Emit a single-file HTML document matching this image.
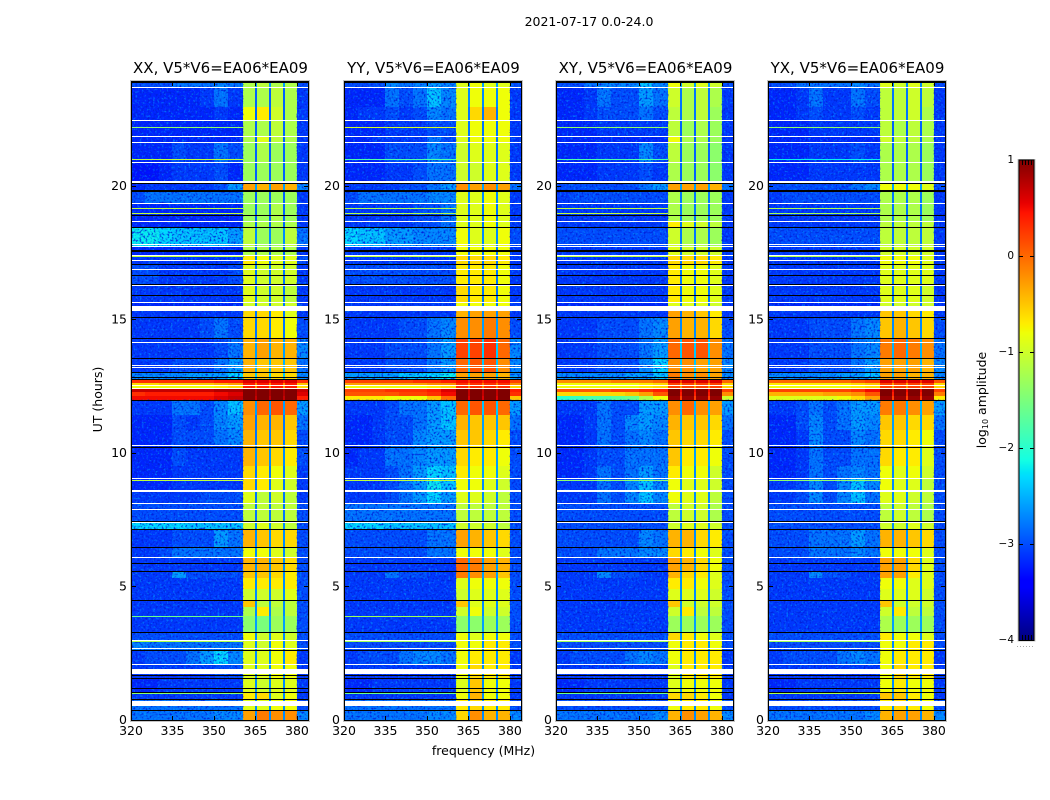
<!DOCTYPE html>
<html lang="en">
<head>
<meta charset="utf-8">
<title>2021-07-17 amplitude spectrograms</title>
<style>
html,body{margin:0;padding:0;background:#fff;width:1050px;height:800px;overflow:hidden}
svg{display:block}
text{font-family:"DejaVu Sans","Liberation Sans",sans-serif;fill:#000}
</style>
</head>
<body>
<svg id="chart" xmlns="http://www.w3.org/2000/svg" width="1050" height="800" viewBox="0 0 1050 800">
<defs>
<filter id="speckle" x="0" y="0" width="100%" height="100%" color-interpolation-filters="sRGB">
<feTurbulence type="fractalNoise" baseFrequency="0.45" numOctaves="2" seed="4"/>
<feColorMatrix type="matrix" values="0 0 0 0 0  0 0 0 0 0.72  0 0 0 0 1  0 0 0 4 -2.2"/>
</filter>
<filter id="speckle-dark" x="0" y="0" width="100%" height="100%" color-interpolation-filters="sRGB">
<feTurbulence type="fractalNoise" baseFrequency="0.5" numOctaves="2" seed="11"/>
<feColorMatrix type="matrix" values="0 0 0 0 0  0 0 0 0 0.12  0 0 0 0 0.85  0 0 0 3.5 -1.7"/>
</filter>
</defs>
<text x="589" y="26" font-size="12.5" text-anchor="middle">2021-07-17 0.0-24.0</text>
<text x="483.5" y="755" font-size="12.5" text-anchor="middle">frequency (MHz)</text>
<text x="0" y="0" font-size="12.5" text-anchor="middle" transform="translate(102,399.5) rotate(-90)">UT (hours)</text>
<text x="0" y="0" font-size="12.5" text-anchor="middle" transform="translate(986,400) rotate(-90)">log<tspan font-size="8" dy="2">10</tspan><tspan dy="-2"> amplitude</tspan></text>
<g id="panels"></g>
<g id="colorbar"></g>
</svg>
<script>
// ---------- chart data (log10 amplitude in tenths; UT in hours; frequency in MHz) ----------
const panelTitles = ["XX, V5*V6=EA06*EA09","YY, V5*V6=EA06*EA09","XY, V5*V6=EA06*EA09","YX, V5*V6=EA06*EA09"];
const xTickLabels = [320,335,350,365,380];
const yTickLabels = [0,5,10,15,20];
const colorbarTicks = [1,0,-1,-2,-3,-4];
const utEdges = [23.9,23.68,22.95,22.44,21.84,21.62,20.87,20.17,19.83,19.33,18.66,18.43,17.72,17.4,17.06,16.26,15.65,15.3,15.06,14.3,13.55,13,12.71,12.6,12.49,12.42,12.27,12.12,11.97,11.4,10.85,10.27,9.5,9.03,8.53,8.1,7.45,7.12,6.47,6.07,5.57,5.3,4.9,4.46,4.2,3.86,3.27,2.99,2.6,2.07,1.55,1.03,0.77,0.36,0];
const backgroundBands = [[320,325],[325,330],[330,335],[335,340],[340,345],[345,350],[350,355],[355,360.5]];
const subBands = [[360.5,364.9],[365.6,369.9],[370.6,375],[375.7,380]];
const gapBands = [[364.9,365.6],[369.9,370.6],[375,375.7]];
const rimBand = [380,384];
const whiteLinesUT = [23.68,22.44,21.84,21.62,20.87,19.33,18.66,17.82,17.72,17.4,17.21,16.86,16.26,15.65,14.13,13.28,13.2,12.54,12.43,10.27,9.03,8.1,7.87,7.4,6.07,2.99,2.69,2.07];
const whiteGapsUT = [[20.17,20.09],[15.49,15.3],[8.6,8.53],[1.89,1.7],[0.69,0.51]];
const blackLinesUT = [23.86,20.08,18.88,18.43,17.06,16.65,16.31,15.9,15.06,14.3,13.55,13,12.84,12.76,11.97,10.19,7.45,7.12,6.47,5.85,5.57,4.46,3.27,2.6,1.67,1.55,1.17,1.03,0.77,0.36];
const blackGapsUT = [[19.83,19.76],[17.58,17.51]];
const rfiUT = [22.2,20.98,19.17,18.96,17.35,8.96,3.86,3.28,2.94,0.98];
const rfiXX = [-14,-11,-11,-11,-11,-11,-16,-16,-12,-14];
const rfiYY = [-10,-18,-12,-12,-11,-11,-13,-17,-13,-16];
const rfiXY = [-14,-18,-11,-11,-11,-14,null,-18,-13,-16];
const rfiYX = [-14,-22,-12,-13,-12,-14,null,-19,-13,-12];
// each row: 8 background bands, 4 sub-bands, gap, rim
const valuesXX = [
[-30,-30,-30,-28,-28,-28,-27,-28,-12,-11,-12,-12,-26,-30],
[-32,-32,-32,-32,-32,-31,-28,-31,-12,-12,-11,-12,-29,-31],
[-32,-32,-32,-32,-32,-32,-31,-32,-8,-7,-10,-12,-29,-31],
[-32,-32,-32,-32,-32,-32,-32,-32,-12,-12,-11,-12,-29,-31],
[-32,-32,-32,-32,-32,-32,-32,-32,-12,-9,-11,-12,-29,-31],
[-32,-32,-32,-30,-31,-31,-28,-30,-13,-12,-13,-13,-29,-31],
[-33,-33,-32,-31,-31,-31,-30,-32,-13,-13,-13,-13,-29,-31],
[-32,-31,-31,-31,-31,-31,-30,-26,-3,-4,-3,-4,-26,-27],
[-30,-28,-28,-28,-28,-28,-28,-28,-13,-13,-13,-13,-29,-31],
[-32,-32,-32,-32,-32,-32,-32,-32,-13,-13,-12,-13,-29,-31],
[-32,-32,-32,-32,-32,-32,-32,-32,-12,-12,-12,-12,-29,-31],
[-22,-22,-23,-24,-24,-24,-24,-26,-11,-13,-13,-11,-27,-28],
[-32,-32,-32,-32,-32,-32,-32,-32,-12,-12,-12,-12,-29,-31],
[-31,-31,-31,-31,-31,-31,-31,-31,-7,-8,-9,-9,-28,-30],
[-30,-30,-31,-31,-31,-31,-31,-30,-9,-10,-10,-10,-28,-31],
[-31,-31,-31,-31,-31,-31,-31,-31,-9,-10,-10,-11,-28,-31],
[-32,-32,-32,-32,-32,-32,-32,-32,-10,-10,-10,-10,-28,-31],
[-31,-31,-31,-31,-31,-31,-31,-31,-6,-6,-7,-9,-28,-31],
[-31,-31,-31,-31,-31,-30,-28,-30,-6,-6,-7,-8,-28,-30],
[-31,-31,-31,-31,-31,-31,-30,-28,-4,-3,-4,-4,-26,-27],
[-31,-31,-31,-30,-30,-30,-28,-26,-4,-5,-5,-5,-25,-28],
[-27,-27,-27,-27,-26,-26,-26,-23,-5,-5,-6,-6,-24,-27],
[3,3,3,3,3,3,4,4,6,6,6,6,4,3],
[-6,-6,-5,-5,-5,-5,-4,-3,4,4,4,4,-2,-5],
[-8,-8,-8,-8,-8,-8,-7,-6,4,4,4,4,-3,-6],
[7,7,7,7,7,7,8,8,10,10,10,10,8,7],
[3,4,4,4,4,4,5,6,10,10,10,10,8,6],
[5,5,5,5,5,5,6,7,10,10,10,10,7,4],
[-31,-31,-31,-28,-28,-30,-27,-24,-2,0,1,0,-26,-26],
[-32,-32,-32,-30,-31,-30,-27,-26,-3,-4,-4,-5,-28,-28],
[-32,-32,-32,-30,-30,-30,-28,-27,-4,-5,-5,-6,-28,-30],
[-32,-32,-32,-30,-31,-31,-31,-31,-4,-5,-6,-7,-27,-30],
[-32,-32,-32,-31,-31,-31,-31,-31,-6,-7,-8,-9,-28,-31],
[-32,-32,-32,-31,-31,-31,-31,-31,-6,-7,-9,-10,-28,-31],
[-31,-31,-31,-31,-31,-30,-30,-30,-9,-11,-10,-11,-28,-31],
[-30,-30,-30,-30,-30,-30,-30,-30,-11,-11,-11,-11,-28,-30],
[-23,-23,-23,-23,-24,-24,-24,-24,-10,-9,-10,-11,-27,-30],
[-31,-31,-31,-30,-30,-30,-26,-28,-4,-5,-6,-6,-27,-30],
[-31,-31,-30,-28,-28,-28,-28,-28,-8,-8,-9,-10,-27,-30],
[-31,-31,-31,-31,-31,-31,-31,-31,-4,-4,-5,-6,-27,-30],
[-31,-31,-31,-26,-30,-30,-30,-30,-5,-5,-6,-7,-27,-30],
[-31,-31,-31,-31,-31,-31,-31,-31,-7,-7,-7,-7,-27,-30],
[-31,-31,-31,-31,-31,-31,-31,-31,-10,-10,-10,-9,-27,-30],
[-31,-31,-31,-31,-31,-31,-31,-31,-5,-11,-11,-11,-27,-30],
[-31,-31,-31,-31,-31,-31,-31,-31,-12,-7,-12,-11,-27,-30],
[-31,-31,-31,-31,-31,-31,-31,-31,-14,-15,-13,-13,-26,-30],
[-30,-30,-30,-30,-30,-30,-30,-30,-8,-10,-9,-10,-27,-30],
[-27,-28,-28,-28,-28,-28,-28,-28,-9,-10,-8,-9,-27,-30],
[-31,-30,-30,-30,-28,-26,-23,-27,-9,-9,-8,-7,-27,-31],
[-31,-31,-31,-31,-31,-31,-30,-30,-9,-9,-8,-8,-27,-31],
[-32,-32,-31,-31,-31,-31,-31,-31,-9,-10,-9,-9,-27,-31],
[-31,-31,-31,-31,-31,-31,-31,-31,-7,-6,-9,-8,-27,-31],
[-28,-28,-28,-28,-28,-28,-28,-28,-9,-9,-8,-8,-27,-30],
[-28,-28,-28,-28,-28,-28,-27,-27,-3,-1,-2,-2,-27,-27]
];
const valuesYY = [
[-30,-30,-30,-27,-28,-27,-26,-27,-9,-8,-9,-9,-26,-30],
[-32,-32,-32,-28,-30,-28,-24,-27,-9,-8,-8,-8,-27,-31],
[-32,-31,-31,-30,-31,-30,-27,-28,-9,-6,-4,-8,-28,-31],
[-32,-32,-32,-31,-31,-31,-30,-30,-9,-8,-8,-8,-28,-31],
[-32,-32,-31,-31,-31,-31,-28,-30,-9,-8,-8,-8,-28,-31],
[-32,-32,-32,-30,-30,-30,-27,-28,-10,-9,-9,-9,-28,-31],
[-32,-32,-32,-31,-31,-30,-28,-28,-10,-10,-9,-9,-28,-31],
[-31,-31,-31,-31,-30,-30,-28,-26,-2,-3,-2,-3,-26,-28],
[-30,-28,-28,-28,-28,-28,-27,-27,-9,-9,-8,-9,-27,-31],
[-31,-31,-31,-31,-31,-30,-30,-28,-9,-9,-8,-9,-28,-31],
[-31,-31,-31,-31,-31,-30,-30,-28,-9,-9,-8,-9,-28,-31],
[-23,-24,-24,-26,-26,-27,-27,-27,-8,-9,-9,-8,-27,-30],
[-31,-31,-31,-31,-31,-31,-31,-31,-8,-8,-8,-8,-28,-31],
[-31,-31,-31,-31,-31,-31,-31,-31,-6,-6,-6,-7,-28,-31],
[-30,-30,-30,-30,-30,-30,-30,-30,-7,-7,-7,-8,-28,-31],
[-31,-31,-31,-31,-31,-31,-31,-31,-6,-7,-7,-8,-28,-31],
[-31,-31,-31,-31,-31,-31,-31,-31,-8,-8,-8,-8,-28,-31],
[-31,-31,-31,-31,-31,-31,-31,-31,-4,-3,-3,-3,-27,-31],
[-31,-31,-31,-31,-30,-30,-28,-27,-2,-2,-1,-2,-26,-30],
[-31,-31,-31,-30,-30,-30,-28,-26,2,2,3,0,-24,-27],
[-31,-31,-31,-30,-30,-30,-28,-26,0,1,1,-2,-24,-27],
[-26,-26,-26,-26,-24,-24,-23,-22,-3,-3,-3,-4,-24,-26],
[2,2,2,2,2,3,3,4,5,5,5,5,3,2],
[-3,-3,-3,-3,-3,-3,-2,-2,3,3,3,3,-1,-2],
[-8,-8,-8,-8,-8,-8,-7,-6,3,3,3,3,-2,-6],
[2,2,2,3,3,3,4,6,10,10,10,10,7,4],
[1,1,1,1,2,2,3,5,10,10,10,10,7,3],
[-7,-7,-7,-8,-8,-8,-5,0,10,10,10,10,6,-5],
[-31,-31,-31,-30,-28,-28,-26,-24,0,1,1,0,-24,-26],
[-32,-32,-31,-30,-30,-28,-26,-24,-4,-5,-5,-5,-26,-28],
[-32,-32,-31,-30,-30,-27,-26,-26,-5,-5,-6,-7,-26,-30],
[-32,-31,-31,-28,-28,-27,-26,-26,-6,-7,-7,-8,-26,-30],
[-31,-31,-31,-30,-28,-26,-23,-24,-7,-8,-8,-9,-26,-30],
[-31,-31,-31,-30,-28,-26,-22,-24,-8,-8,-9,-10,-27,-30],
[-31,-31,-31,-30,-28,-26,-23,-26,-9,-9,-10,-11,-27,-30],
[-28,-28,-28,-28,-28,-28,-28,-28,-11,-11,-11,-11,-27,-30],
[-23,-23,-23,-24,-24,-24,-24,-24,-10,-10,-10,-11,-27,-30],
[-30,-30,-30,-30,-30,-30,-28,-28,-3,-4,-5,-6,-27,-30],
[-30,-30,-30,-30,-30,-30,-28,-28,-8,-8,-8,-9,-27,-30],
[-31,-31,-31,-31,-31,-31,-31,-31,0,-1,-3,-4,-26,-30],
[-31,-31,-31,-28,-30,-30,-31,-31,-1,-2,-3,-5,-26,-30],
[-31,-31,-31,-31,-31,-31,-31,-31,-9,-8,-8,-8,-27,-30],
[-31,-31,-31,-31,-31,-31,-31,-31,-10,-9,-9,-9,-27,-30],
[-31,-31,-31,-31,-31,-31,-31,-31,-5,-9,-9,-9,-27,-30],
[-31,-31,-31,-31,-31,-31,-31,-31,-10,-8,-10,-10,-27,-30],
[-31,-31,-31,-31,-31,-31,-31,-31,-14,-14,-13,-13,-26,-30],
[-30,-30,-30,-30,-30,-30,-30,-30,-8,-9,-8,-8,-27,-30],
[-30,-30,-30,-30,-30,-30,-30,-30,-8,-8,-7,-7,-27,-30],
[-31,-30,-30,-30,-28,-27,-27,-28,-8,-7,-7,-7,-27,-31],
[-31,-31,-31,-31,-31,-31,-31,-31,-8,-6,-7,-7,-27,-31],
[-32,-32,-31,-31,-31,-31,-31,-31,-9,-5,-8,-8,-27,-31],
[-31,-31,-31,-31,-31,-31,-31,-31,-8,-4,-8,-8,-27,-31],
[-28,-28,-28,-28,-28,-28,-28,-28,-7,-6,-7,-7,-27,-30],
[-28,-28,-28,-28,-28,-28,-27,-27,-6,-2,-4,-4,-27,-27]
];
const valuesXY = [
[-30,-30,-28,-27,-27,-27,-24,-27,-8,-10,-9,-10,-26,-30],
[-32,-32,-31,-28,-30,-30,-26,-28,-10,-12,-11,-12,-28,-31],
[-32,-32,-31,-30,-30,-30,-28,-30,-11,-12,-11,-13,-28,-31],
[-32,-32,-32,-31,-31,-31,-31,-31,-11,-13,-12,-13,-29,-31],
[-32,-32,-32,-32,-32,-32,-32,-32,-8,-12,-12,-13,-29,-31],
[-32,-32,-32,-31,-31,-31,-27,-30,-11,-13,-13,-14,-29,-31],
[-32,-32,-32,-31,-31,-31,-30,-31,-12,-13,-13,-14,-29,-31],
[-30,-30,-30,-30,-30,-30,-28,-26,-3,-3,-3,-4,-26,-28],
[-31,-30,-30,-30,-30,-30,-30,-30,-12,-13,-13,-13,-28,-31],
[-31,-31,-31,-31,-31,-31,-31,-31,-12,-13,-13,-13,-28,-31],
[-31,-31,-31,-31,-31,-31,-31,-31,-7,-9,-10,-11,-28,-31],
[-30,-30,-30,-30,-30,-30,-30,-30,-10,-12,-12,-13,-28,-31],
[-31,-31,-31,-31,-31,-31,-31,-31,-9,-10,-10,-10,-28,-31],
[-31,-31,-31,-31,-31,-31,-31,-31,-6,-6,-6,-7,-28,-31],
[-31,-31,-31,-31,-31,-31,-31,-31,-7,-8,-8,-9,-28,-31],
[-31,-31,-31,-31,-31,-31,-31,-31,-7,-8,-8,-9,-28,-31],
[-32,-32,-32,-32,-32,-32,-32,-32,-9,-9,-9,-10,-28,-31],
[-31,-31,-31,-31,-31,-31,-31,-31,-3,-4,-5,-7,-28,-31],
[-31,-31,-31,-30,-30,-30,-28,-27,-3,-4,-4,-6,-27,-30],
[-31,-31,-31,-30,-30,-30,-28,-26,0,1,1,-2,-24,-28],
[-31,-31,-31,-30,-30,-30,-27,-23,-2,-2,-3,-3,-24,-27],
[-27,-27,-27,-27,-27,-26,-26,-24,-1,-2,-2,-3,-24,-27],
[-2,-2,-2,-2,-1,-1,-1,0,6,6,6,6,2,0],
[-8,-8,-8,-8,-8,-8,-7,-6,2,2,2,2,-3,-6],
[-8,-8,-8,-8,-8,-8,-7,-6,2,2,2,2,-3,-6],
[1,1,1,1,2,2,3,4,10,10,10,10,5,2],
[-6,-6,-6,-6,-6,-5,-3,1,10,10,10,10,4,-2],
[-20,-19,-18,-18,-17,-16,-12,-8,9,9,9,9,2,-10],
[-31,-31,-31,-28,-30,-30,-26,-26,-2,0,-2,-3,-25,-26],
[-32,-32,-31,-28,-30,-27,-26,-27,-4,-5,-5,-6,-26,-28],
[-32,-32,-31,-28,-30,-28,-27,-28,-5,-6,-6,-7,-26,-30],
[-32,-32,-31,-30,-30,-28,-28,-28,-5,-7,-7,-8,-26,-30],
[-32,-32,-31,-28,-30,-28,-26,-28,-7,-8,-8,-10,-27,-30],
[-31,-31,-31,-28,-30,-27,-24,-27,-8,-9,-9,-10,-27,-30],
[-31,-31,-31,-28,-30,-27,-24,-27,-8,-9,-9,-11,-27,-30],
[-30,-30,-30,-30,-30,-30,-30,-30,-11,-10,-10,-12,-27,-30],
[-30,-30,-30,-30,-30,-30,-30,-30,-10,-9,-9,-10,-27,-30],
[-30,-30,-30,-30,-30,-30,-27,-28,-4,-4,-6,-7,-27,-30],
[-30,-30,-30,-28,-28,-28,-27,-27,-6,-7,-8,-9,-27,-30],
[-31,-31,-31,-31,-31,-31,-31,-31,-3,-4,-6,-8,-27,-30],
[-31,-31,-31,-27,-30,-30,-31,-31,-4,-6,-7,-9,-27,-30],
[-31,-31,-31,-31,-31,-31,-31,-31,-7,-7,-8,-9,-27,-30],
[-31,-31,-31,-31,-31,-31,-31,-31,-9,-9,-9,-10,-27,-30],
[-31,-31,-31,-31,-31,-31,-31,-31,-5,-10,-10,-10,-27,-30],
[-31,-31,-31,-31,-31,-31,-31,-31,-10,-7,-11,-11,-27,-30],
[-31,-31,-31,-31,-31,-31,-31,-31,-13,-13,-13,-13,-26,-30],
[-30,-30,-30,-30,-30,-30,-30,-30,-6,-7,-8,-9,-27,-30],
[-30,-30,-30,-30,-30,-30,-30,-30,-8,-7,-7,-8,-27,-30],
[-31,-30,-30,-30,-30,-28,-27,-28,-8,-7,-7,-7,-27,-31],
[-31,-31,-31,-31,-31,-31,-31,-31,-9,-7,-7,-7,-27,-31],
[-32,-32,-31,-31,-31,-31,-31,-31,-9,-8,-8,-8,-27,-31],
[-31,-31,-31,-31,-31,-31,-31,-31,-6,-6,-7,-8,-27,-31],
[-30,-30,-30,-30,-30,-30,-30,-30,-8,-7,-7,-8,-27,-30],
[-28,-28,-28,-28,-28,-28,-28,-27,-4,-2,-3,-4,-27,-27]
];
const valuesYX = [
[-30,-30,-28,-28,-28,-28,-27,-28,-9,-10,-9,-10,-27,-30],
[-32,-32,-31,-28,-31,-31,-28,-30,-11,-11,-10,-11,-28,-31],
[-32,-32,-31,-30,-31,-31,-30,-31,-11,-11,-10,-12,-28,-31],
[-32,-32,-32,-31,-31,-31,-31,-31,-11,-12,-11,-12,-29,-31],
[-32,-32,-32,-32,-32,-32,-32,-32,-10,-11,-11,-12,-29,-31],
[-32,-32,-32,-31,-31,-31,-30,-31,-12,-12,-12,-13,-29,-31],
[-32,-32,-32,-31,-31,-31,-31,-31,-12,-12,-12,-13,-29,-31],
[-30,-30,-30,-30,-30,-30,-28,-27,-8,-8,-8,-9,-26,-30],
[-31,-30,-30,-30,-30,-30,-30,-30,-12,-12,-12,-13,-28,-31],
[-31,-31,-31,-31,-31,-31,-31,-31,-12,-12,-12,-13,-28,-31],
[-31,-31,-31,-31,-31,-31,-31,-31,-11,-11,-11,-11,-28,-31],
[-30,-30,-30,-30,-30,-30,-30,-30,-11,-11,-11,-11,-28,-31],
[-31,-31,-31,-31,-31,-31,-31,-31,-10,-10,-10,-10,-28,-31],
[-31,-31,-31,-31,-31,-31,-31,-31,-8,-8,-8,-9,-28,-31],
[-31,-31,-31,-31,-31,-31,-31,-31,-9,-9,-9,-9,-28,-31],
[-31,-31,-31,-31,-31,-31,-31,-31,-9,-9,-9,-10,-28,-31],
[-32,-32,-32,-32,-32,-32,-32,-32,-10,-10,-10,-10,-28,-31],
[-31,-31,-31,-31,-31,-31,-31,-31,-5,-5,-6,-7,-28,-31],
[-31,-31,-31,-30,-30,-30,-28,-27,-5,-4,-5,-6,-27,-30],
[-31,-31,-31,-30,-30,-30,-28,-27,-1,0,-1,-2,-25,-28],
[-31,-31,-31,-30,-30,-30,-28,-26,-3,-3,-3,-4,-25,-27],
[-27,-27,-27,-27,-27,-26,-26,-24,-3,-3,-4,-4,-25,-27],
[0,0,0,0,0,0,1,2,6,6,6,6,3,1],
[-7,-7,-7,-7,-7,-7,-6,-5,2,2,2,2,-3,-6],
[-8,-8,-8,-8,-8,-8,-7,-6,2,2,2,2,-3,-6],
[2,2,2,2,2,2,3,5,10,10,10,10,5,2],
[-4,-4,-4,-4,-3,-3,-2,1,10,10,10,10,4,-1],
[-9,-9,-9,-9,-9,-8,-6,-3,9,9,9,9,2,-7],
[-31,-31,-30,-28,-30,-28,-26,-26,-1,-1,-2,-3,-25,-26],
[-32,-32,-30,-27,-30,-28,-26,-27,-5,-5,-6,-6,-26,-28],
[-32,-32,-31,-27,-30,-30,-27,-28,-6,-6,-7,-8,-26,-30],
[-32,-32,-31,-28,-30,-30,-28,-28,-6,-7,-7,-9,-26,-30],
[-32,-32,-31,-28,-30,-28,-27,-28,-8,-9,-8,-10,-27,-30],
[-31,-31,-30,-27,-30,-27,-24,-27,-8,-9,-9,-11,-27,-30],
[-31,-31,-30,-27,-30,-27,-24,-28,-9,-9,-10,-11,-27,-30],
[-30,-30,-30,-30,-30,-30,-30,-30,-11,-10,-11,-12,-27,-30],
[-30,-30,-30,-30,-30,-30,-30,-30,-10,-10,-9,-10,-27,-30],
[-30,-30,-30,-28,-28,-28,-26,-28,-4,-4,-5,-6,-27,-30],
[-30,-30,-30,-28,-28,-28,-27,-28,-8,-8,-8,-9,-27,-30],
[-31,-31,-31,-31,-31,-31,-31,-31,-3,-3,-6,-9,-27,-30],
[-31,-31,-31,-27,-30,-30,-31,-31,-3,-3,-7,-9,-27,-30],
[-31,-31,-31,-31,-31,-31,-31,-31,-8,-8,-9,-9,-27,-30],
[-31,-31,-31,-31,-31,-31,-31,-31,-9,-9,-9,-10,-27,-30],
[-31,-31,-31,-31,-31,-31,-31,-31,-5,-10,-10,-10,-27,-30],
[-31,-31,-31,-31,-31,-31,-31,-31,-10,-7,-11,-11,-27,-30],
[-31,-31,-31,-31,-31,-31,-31,-31,-12,-13,-13,-13,-26,-30],
[-30,-30,-30,-30,-30,-30,-30,-30,-7,-8,-8,-9,-27,-30],
[-30,-30,-30,-30,-30,-30,-30,-30,-8,-8,-7,-7,-27,-30],
[-31,-30,-30,-30,-30,-28,-27,-28,-8,-7,-7,-7,-27,-31],
[-31,-31,-31,-31,-31,-31,-31,-31,-8,-6,-7,-7,-27,-31],
[-32,-32,-31,-31,-31,-31,-31,-31,-8,-7,-8,-8,-27,-31],
[-31,-31,-31,-31,-31,-31,-31,-31,-5,-5,-7,-8,-27,-31],
[-30,-30,-30,-30,-30,-30,-30,-30,-7,-6,-7,-8,-27,-30],
[-28,-28,-28,-28,-28,-28,-28,-27,-4,-3,-3,-4,-27,-27]
];
const panelValues = [valuesXX,valuesYY,valuesXY,valuesYX];
const panelRfi = [rfiXX,rfiYY,rfiXY,rfiYX];

// ---------- layout and axis functions ----------
const NS = "http://www.w3.org/2000/svg";
const panelLefts = [131,344,556,768];
const panelWidth = 177, plotTop = 81.4, plotBottom = 719.5;
const freqMin = 320, freqMax = 384, utMin = 0, utMax = 23.9;
function xScale(p, mhz){ return panelLefts[p] + (mhz - freqMin) / (freqMax - freqMin) * panelWidth; }
function yScale(ut){ return plotBottom - (ut - utMin) / (utMax - utMin) * (plotBottom - plotTop); }
function jetChannel(pts, t){
  for(let i = 1; i < pts.length; i++){
    if(t <= pts[i][0]){
      const a = pts[i-1], b = pts[i];
      return a[1] + (b[1]-a[1]) * (t-a[0]) / (b[0]-a[0]);
    }
  }
  return pts[pts.length-1][1];
}
const jetR = [[0,0],[0.35,0],[0.66,1],[0.89,1],[1,0.5]];
const jetG = [[0,0],[0.125,0],[0.375,1],[0.64,1],[0.91,0],[1,0]];
const jetB = [[0,0.5],[0.11,1],[0.34,1],[0.65,0],[1,0]];
function colorFor(logAmp){
  const t = Math.max(0, Math.min(1, (logAmp + 4) / 5));
  const c = [jetR,jetG,jetB].map(s => Math.round(jetChannel(s,t)*255));
  return "rgb(" + c.join(",") + ")";
}
function mk(tag, attrs, parent){
  const el = document.createElementNS(NS, tag);
  for(const k in attrs) el.setAttribute(k, attrs[k]);
  parent.appendChild(el);
  return el;
}
const panelsGroup = document.getElementById("panels");

panelTitles.forEach(function(title, p){
  const g = mk("g", {}, panelsGroup);
  
  
  const rows = panelValues[p];
  const left = xScale(p, freqMin), right = xScale(p, freqMax);

  // heatmap cells
  const cells = mk("g", {"shape-rendering":"crispEdges"}, g);
  
  
  function cell(f0, f1, u0, u1, val){
    const x0 = Math.round(xScale(p,f0)), x1 = Math.round(xScale(p,f1));
    const y0 = Math.round(yScale(u0)), y1 = Math.round(yScale(u1));
    const r = mk("rect", {x:x0, y:y0, width:Math.max(1,x1-x0), height:Math.max(1,y1-y0), fill:colorFor(val)}, cells);
    
    
  }
  rows.forEach(function(row, i){
    const u0 = utEdges[i], u1 = utEdges[i+1];
    backgroundBands.forEach(function(b, j){ cell(b[0], b[1], u0, u1, row[j] / 10); });
    subBands.forEach(function(b, j){ cell(b[0], b[1], u0, u1, row[8+j] / 10); });
    gapBands.forEach(function(b){ cell(b[0], b[1], u0, u1, row[12] / 10); });
    cell(rimBand[0], rimBand[1], u0, u1, row[13] / 10);
  });

  // receiver-noise texture over the quiet frequency ranges
  [[freqMin,360.5],rimBand].forEach(function(b){
    const dark = mk("rect", {x:xScale(p,b[0]), y:plotTop, width:xScale(p,b[1])-xScale(p,b[0]), height:yScale(12.76)-plotTop, filter:"url(#speckle-dark)"}, g);
    
    
    const dark2 = mk("rect", {x:xScale(p,b[0]), y:yScale(11.97), width:xScale(p,b[1])-xScale(p,b[0]), height:plotBottom-yScale(11.97), filter:"url(#speckle-dark)"}, g);
    
    
    const lite = mk("rect", {x:xScale(p,b[0]), y:plotTop, width:xScale(p,b[1])-xScale(p,b[0]), height:yScale(12.76)-plotTop, filter:"url(#speckle)", opacity:"0.5"}, g);
    
    
    const lite2 = mk("rect", {x:xScale(p,b[0]), y:yScale(11.97), width:xScale(p,b[1])-xScale(p,b[0]), height:plotBottom-yScale(11.97), filter:"url(#speckle)", opacity:"0.5"}, g);
    
    
  });

  const lines = mk("g", {"shape-rendering":"crispEdges"}, g);
  
  
  // narrow interference lines
  rfiUT.forEach(function(u, i){
    const v = panelRfi[p][i];
    if(v === null) return;
    const r = mk("rect", {x:left, y:Math.round(yScale(u)), width:xScale(p,360.5)-left, height:1, fill:colorFor(v/10)}, lines);
    
    
  });
  // zero-amplitude rows (black)
  blackLinesUT.forEach(function(u){
    const r = mk("rect", {x:left, y:Math.round(yScale(u)), width:right-left, height:1, fill:"#000"}, lines);
    
    
  });
  blackGapsUT.forEach(function(u){
    const y0 = Math.round(yScale(u[0])), y1 = Math.round(yScale(u[1]));
    const r = mk("rect", {x:left, y:y0, width:right-left, height:y1-y0, fill:"#000"}, lines);
    
    
  });
  // missing-data rows (white)
  whiteLinesUT.forEach(function(u){
    const r = mk("rect", {x:left, y:Math.round(yScale(u)), width:right-left, height:1, fill:"#fff"}, lines);
    
    
  });
  whiteGapsUT.forEach(function(u){
    const y0 = Math.round(yScale(u[0])), y1 = Math.round(yScale(u[1]));
    const r = mk("rect", {x:left, y:y0, width:right-left, height:y1-y0, fill:"#fff"}, lines);
    
    
  });

  // frame
  const frameHalo = mk("rect", {x:left-0.5, y:80.5, width:panelWidth+2, height:641, fill:"none", stroke:"#c4c4c4", "stroke-width":1}, g);
  
  
  const frame = mk("rect", {x:left+0.5, y:81.5, width:panelWidth, height:639, fill:"none", stroke:"#000", "stroke-width":1}, g);
  
  

  // title
  const t = mk("text", {x:(left+right)/2+1, y:73, "font-size":15, "text-anchor":"middle"}, g);
  t.textContent = title;
  
  

  // x ticks
  xTickLabels.forEach(function(v){
    const x = Math.round(xScale(p, v)) + 0.5;
    const bt = mk("line", {x1:x, x2:x, y1:720, y2:716, stroke:"#000"}, g);
    
    
    const tt = mk("line", {x1:x, x2:x, y1:82, y2:86, stroke:"#000"}, g);
    
    
    const lbl = mk("text", {x:xScale(p, v), y:735, "font-size":12.5, "text-anchor":"middle"}, g);
    lbl.textContent = v;
    
    
  });
  // y ticks
  yTickLabels.forEach(function(v){
    const y = Math.round(yScale(v)) + 0.5;
    const lt = mk("line", {x1:left+1, x2:left+5, y1:y, y2:y, stroke:"#000"}, g);
    
    
    const rt = mk("line", {x1:right, x2:right-4, y1:y, y2:y, stroke:"#000"}, g);
    
    
    const lbl = mk("text", {x:left-4, y:yScale(v)+4.5, "font-size":12.5, "text-anchor":"end"}, g);
    lbl.textContent = v;
    
    
  });
});

// ---------- colorbar ----------
const cb = document.getElementById("colorbar");
const cbLeft = 1019, cbRight = 1034, cbTop = 160, cbBottom = 640;
function cbY(v){ return cbTop + (1 - v) / 5 * (cbBottom - cbTop); }
const cbSteps = mk("g", {"shape-rendering":"crispEdges"}, cb);


for(let y = cbTop; y < cbBottom; y++){
  const s = mk("rect", {x:cbLeft, y:y, width:cbRight-cbLeft, height:1, fill:colorFor(1 - (y + 0.5 - cbTop) / (cbBottom - cbTop) * 5)}, cbSteps);
  
  
}
const cbHalo = mk("rect", {x:cbLeft-1, y:cbTop-0.5, width:cbRight-cbLeft+2, height:cbBottom-cbTop+1.5, fill:"none", stroke:"#c4c4c4"}, cb);


const cbFrame = mk("rect", {x:cbLeft, y:cbTop, width:cbRight-cbLeft, height:cbBottom-cbTop+0.5, fill:"none", stroke:"#000"}, cb);


colorbarTicks.forEach(function(v){
  const y = Math.round(cbY(v)) + 0.5;
  if(v > -4 && v < 1){
    const a = mk("line", {x1:cbLeft, x2:cbLeft+4, y1:y, y2:y, stroke:"#000"}, cb);
    
    
    const b = mk("line", {x1:cbRight-4, x2:cbRight, y1:y, y2:y, stroke:"#000"}, cb);
    
    
  }
  const lbl = mk("text", {x:cbLeft-5, y:cbY(v)+3, "font-size":10.5, "text-anchor":"end"}, cb);
  lbl.textContent = String(v).replace("-", "\u2212");
  
  
});
[cbTop, cbBottom].forEach(function(edge){
  for(let i = 1; i < 5; i++){
    const x = cbLeft + 0.5 + i * 3;
    const dir = edge === cbTop ? 5 : -5;
    const m = mk("line", {x1:x, x2:x, y1:edge, y2:edge+dir, stroke:"#000"}, cb);
    
    
  }
});
const cbDots = mk("line", {x1:1017, x2:1035, y1:646.5, y2:646.5, stroke:"#aaa", "stroke-width":1, "stroke-dasharray":"1 2"}, cb);


</script>
</body>
</html>
